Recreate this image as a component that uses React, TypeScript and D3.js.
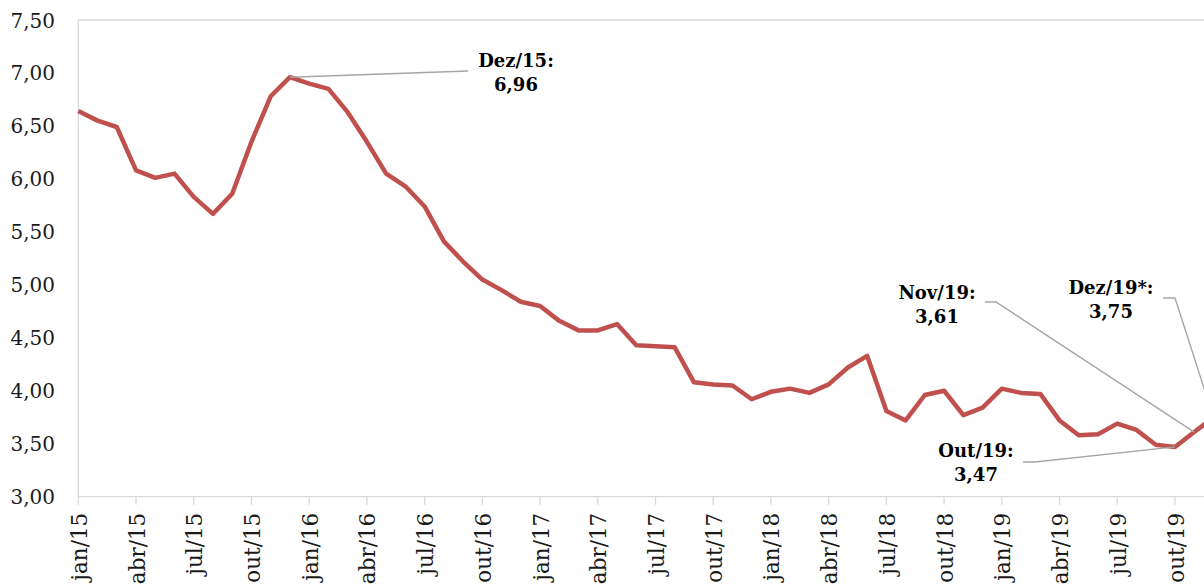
import React from "react";
import * as d3 from "d3";

// Monthly series, jan/2015 – dez/2019
const monthNames = ["jan", "fev", "mar", "abr", "mai", "jun", "jul", "ago", "set", "out", "nov", "dez"];
const years = ["15", "16", "17", "18", "19"];
const categories: string[] = years.flatMap((y) => monthNames.map((m) => `${m}/${y}`));

const values: number[] = [
  6.64, 6.55, 6.49, 6.08, 6.01, 6.05, 5.83, 5.67, 5.86, 6.35, 6.78, 6.96,
  6.90, 6.85, 6.63, 6.35, 6.05, 5.93, 5.74, 5.41, 5.22, 5.05, 4.95, 4.84,
  4.80, 4.66, 4.57, 4.57, 4.63, 4.43, 4.42, 4.41, 4.08, 4.06, 4.05, 3.92,
  3.99, 4.02, 3.98, 4.06, 4.22, 4.33, 3.81, 3.72, 3.96, 4.00, 3.77, 3.84,
  4.02, 3.98, 3.97, 3.72, 3.58, 3.59, 3.69, 3.63, 3.49, 3.47, 3.61, 3.75,
];

const yTicks: number[] = [3.0, 3.5, 4.0, 4.5, 5.0, 5.5, 6.0, 6.5, 7.0, 7.5];
const xTickStep = 3;

// Highlighted points: category index and caption name
const calloutIndex: number[] = [11, 58, 59, 57];
const calloutName: string[] = ["Dez/15", "Nov/19", "Dez/19*", "Out/19"];

// Caption layout (centre x, first baseline y) and leader elbow points
const calloutLayout = [
  { cx: 516, by: 67, path: [[468, 71]] },
  { cx: 937, by: 299, path: [[985, 302], [996, 302]] },
  { cx: 1111, by: 294, path: [[1163, 298], [1175, 298]] },
  { cx: 976, by: 457, path: [[1023, 462], [1035, 462]] },
];

const W = 1204;
const H = 587;
const left = 78.3;
const top = 20;
const bottom = 496.7;
const step = 19.24;

const fmt = (v: number) => v.toFixed(2).replace(".", ",");

export default function App() {
  const x = d3.scaleLinear().domain([0, categories.length - 1]).range([left, left + step * (categories.length - 1)]);
  const y = d3.scaleLinear().domain([3, 7.5]).range([bottom, top]);
  const right = x(categories.length - 1);

  const line = d3
    .line<number>()
    .x((_, i) => x(i))
    .y((d) => y(d));

  const xTickIdx = d3.range(0, categories.length, xTickStep);
  const font = "'DejaVu Serif', serif";

  return (
    <svg
      width={W}
      height={H}
      style={{ position: "absolute", left: 0, top: 0, background: "#fff", overflow: "hidden" }}
      fontFamily={font}
    >
      {/* plot frame */}
      <line x1={left} x2={right + 20} y1={top} y2={top} stroke="#d9d9d9" strokeWidth={1.3} />
      <line x1={left} x2={left} y1={top} y2={bottom} stroke="#d9d9d9" strokeWidth={1.3} />
      <line x1={left} x2={right + 20} y1={bottom} y2={bottom} stroke="#d9d9d9" strokeWidth={1.3} />

      {/* y axis labels */}
      {yTicks.map((t) => (
        <text key={t} x={55} y={y(t) + 7.5} textAnchor="end" fontSize={20} fill="#1a1a1a">
          {fmt(t)}
        </text>
      ))}

      {/* x axis ticks and labels */}
      {xTickIdx.map((i) => (
        <g key={i}>
          <line x1={x(i)} x2={x(i)} y1={bottom} y2={bottom + 8} stroke="#d9d9d9" strokeWidth={1.3} />
          <text
            transform={`translate(${x(i) + 1},${bottom + 16}) rotate(-90)`}
            textAnchor="end"
            dy="0.35em"
            fontSize={21.5}
            fill="#1a1a1a"
          >
            {categories[i]}
          </text>
        </g>
      ))}

      {/* series */}
      <path d={line(values) ?? ""} fill="none" stroke="#c0504d" strokeWidth={4.5} strokeLinejoin="round" />

      {/* callouts */}
      {calloutIndex.map((idx, k) => {
        const lay = calloutLayout[k];
        const pts = [...lay.path, [x(idx), y(values[idx])]];
        return (
          <g key={k}>
            <polyline
              points={pts.map((p) => p.join(",")).join(" ")}
              fill="none"
              stroke="#a6a6a6"
              strokeWidth={1.4}
            />
            <text x={lay.cx} y={lay.by} textAnchor="middle" fontSize={18} fontWeight="bold" fill="#000">
              {calloutName[k]}:
            </text>
            <text x={lay.cx} y={lay.by + 24} textAnchor="middle" fontSize={18} fontWeight="bold" fill="#000">
              {fmt(values[idx])}
            </text>
          </g>
        );
      })}
    </svg>
  );
}
